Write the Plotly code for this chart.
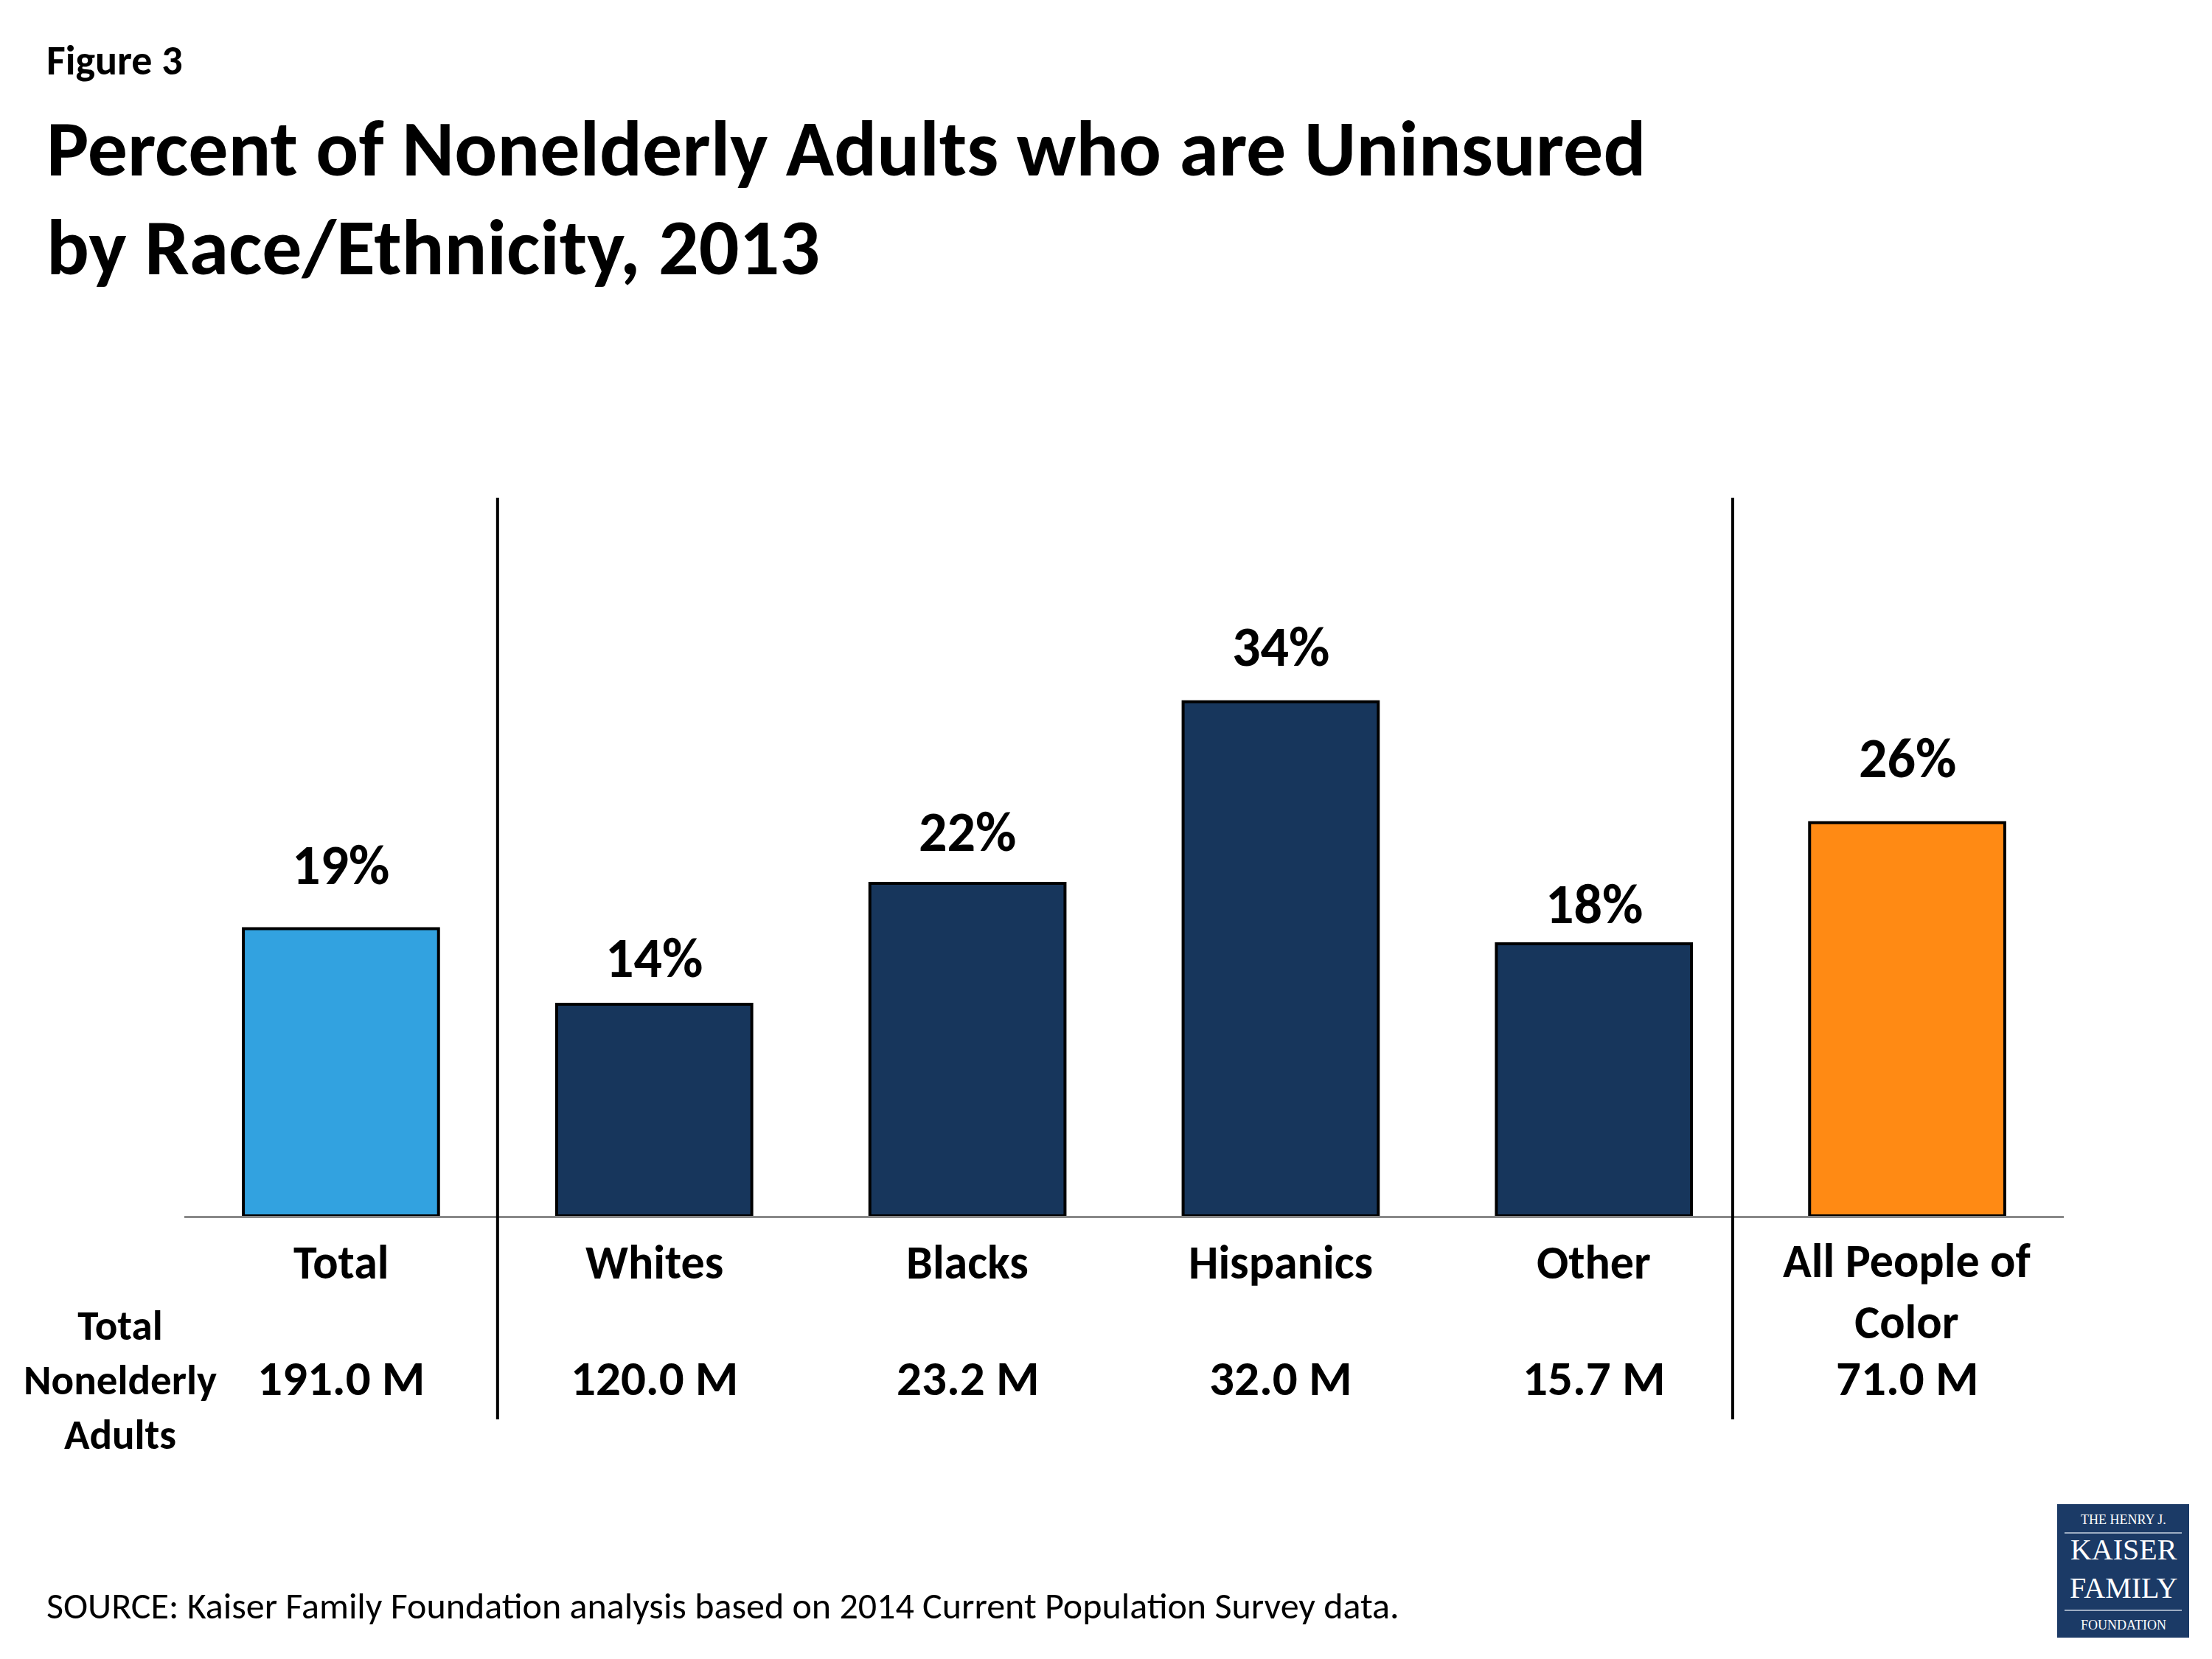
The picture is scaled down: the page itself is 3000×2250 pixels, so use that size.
import plotly.graph_objects as go

categories = ["Total", "Whites", "Blacks", "Hispanics", "Other", "All People of<br>Color"]
pct_uninsured = [19, 14, 22, 34, 18, 26]
pct_labels = ["19%", "14%", "22%", "34%", "18%", "26%"]
total_adults = ["191.0 M", "120.0 M", "23.2 M", "32.0 M", "15.7 M", "71.0 M"]
row_label = "Total<br>Nonelderly<br>Adults"
title_lines = ["Percent of Nonelderly Adults who are Uninsured", "by Race/Ethnicity, 2013"]
figure_label = "Figure 3"
source_text = "SOURCE: Kaiser Family Foundation analysis based on 2014 Current Population Survey data."

# styling
bar_colors = ["#32A2E0", "#17365C", "#17365C", "#17365C", "#17365C", "#FF8A14"]
label_lift_px = [86, 63, 70, 75, 54, 88]  # distance of value label centre above bar top

FONT = "Carlito, Lato, sans-serif"
W, H = 3000, 2250
O = 8  # page body offset
L, T = 250 - O, 675 - O
PW = 2549
PH = 974
R = W - L - PW
B = H - T - PH
YMAX = 47.5


def py(p):
    return (T + PH - (p - O)) / PH


def px(p):
    return (p - O - L) / PW


xs = list(range(len(categories)))

fig = go.Figure()
fig.add_trace(go.Bar(
    x=xs, y=pct_uninsured, width=0.623,
    marker=dict(color=bar_colors, line=dict(color="black", width=4)),
    hoverinfo="skip",
))

ann = []
for i, (v, lab) in enumerate(zip(pct_uninsured, pct_labels)):
    ann.append(dict(x=i, y=v, xref="x", yref="y", text=f"<b>{lab}</b>", showarrow=False,
                    yanchor="middle", yshift=label_lift_px[i],
                    font=dict(family=FONT, size=76, color="black")))
for i, c in enumerate(categories):
    n_lines = c.count("<br>") + 1
    yc = 1712 + (n_lines - 1) * 79 / 2
    ann.append(dict(x=i, y=py(yc), xref="x", yref="paper", text=f"<b>{c}</b>", showarrow=False,
                    yanchor="middle", font=dict(family=FONT, size=64, color="black")))
for i, m in enumerate(total_adults):
    ann.append(dict(x=i, y=py(1869), xref="x", yref="paper", text=f"<b>{m}</b>", showarrow=False,
                    yanchor="middle", font=dict(family=FONT, size=67, color="black")))
ann.append(dict(x=px(163), y=py(1871), xref="paper", yref="paper", text=f"<b>{row_label}</b>",
                showarrow=False, xanchor="center", yanchor="middle",
                font=dict(family=FONT, size=57, color="black")))
ann.append(dict(x=px(61), y=py(82), xref="paper", yref="paper", text=f"<b>{figure_label}</b>",
                showarrow=False, xanchor="left", yanchor="middle",
                font=dict(family=FONT, size=56, color="black")))
for line, yc in zip(title_lines, [201, 335]):
    ann.append(dict(x=px(61), y=py(yc), xref="paper", yref="paper", text=f"<b>{line}</b>",
                    showarrow=False, xanchor="left", yanchor="middle", align="left",
                    font=dict(family=FONT, size=108, color="black")))
ann.append(dict(x=px(61), y=py(2177), xref="paper", yref="paper", text=source_text,
                showarrow=False, xanchor="left", yanchor="middle",
                font=dict(family=FONT, size=50, color="black")))

# logo
LOGO = "#1B3A66"
SERIF = "Liberation Serif, DejaVu Serif, serif"
shapes = [
    dict(type="line", xref="x", yref="paper", x0=0.5, x1=0.5, y0=py(1925), y1=1,
         line=dict(color="black", width=4)),
    dict(type="line", xref="x", yref="paper", x0=4.443, x1=4.443, y0=py(1925), y1=1,
         line=dict(color="black", width=4)),
    dict(type="rect", xref="paper", yref="paper", x0=px(2790), x1=px(2969), y0=py(2221), y1=py(2040),
         fillcolor=LOGO, line=dict(width=0), layer="above"),
    dict(type="line", xref="paper", yref="paper", x0=px(2800), x1=px(2959), y0=py(2079), y1=py(2079),
         line=dict(color="#C9D3E2", width=1.5)),
    dict(type="line", xref="paper", yref="paper", x0=px(2800), x1=px(2959), y0=py(2184), y1=py(2184),
         line=dict(color="#C9D3E2", width=1.5)),
]
for txt, yc, sz in [("THE HENRY J.", 2061, 18), ("KAISER<br>FAMILY", 2127, 40),
                    ("FOUNDATION", 2204, 18)]:
    ann.append(dict(x=px(2880), y=py(yc), xref="paper", yref="paper", text=txt, showarrow=False,
                    xanchor="center", yanchor="middle", font=dict(family=SERIF, size=sz, color="white")))

fig.update_layout(
    width=W, height=H, margin=dict(l=L, r=R, t=T, b=B, pad=0),
    paper_bgcolor="white", plot_bgcolor="white", showlegend=False,
    annotations=ann, shapes=shapes, bargap=0.377,
    xaxis=dict(range=[-0.5, 5.5], showgrid=False, zeroline=False, showticklabels=False,
               ticks="", showline=True, linecolor="#898989", linewidth=3, fixedrange=True),
    yaxis=dict(range=[0, YMAX], visible=False, fixedrange=True),
)

fig.write_html("out.html")
